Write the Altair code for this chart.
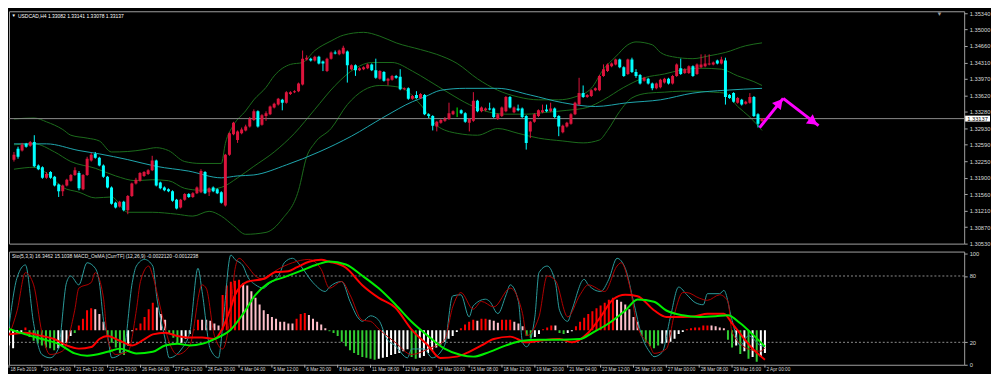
import altair as alt
import pandas as pd

FONT = "Liberation Sans"
W, H1, H2 = 962, 234, 114

# ---------------- data ----------------
tick_labels = ['18 Feb 2019', '20 Feb 04:00', '21 Feb 12:00', '22 Feb 20:00', '26 Feb 04:00',
               '27 Feb 12:00', '28 Feb 20:00', '4 Mar 04:00', '5 Mar 12:00', '6 Mar 20:00',
               '8 Mar 04:00', '11 Mar 08:00', '12 Mar 16:00', '14 Mar 00:00', '15 Mar 08:00',
               '18 Mar 12:00', '19 Mar 20:00', '21 Mar 04:00', '22 Mar 12:00', '25 Mar 16:00',
               '27 Mar 00:00', '28 Mar 08:00', '29 Mar 16:00', '2 Apr 00:00']
price_ticks = [1.30530, 1.30870, 1.31210, 1.31560, 1.31900, 1.32250, 1.32590, 1.32930,
               1.33280, 1.33620, 1.33970, 1.34310, 1.34660, 1.35000, 1.35340]
last_price = 1.33137
title_text = "USDCAD,H4  1.33082 1.33141 1.33078 1.33137"
ind_text = "Sto(5,3,3) 16.3462 15.1038  MACD_OsMA [CurrTF] (12,26,9) -0.0022120 -0.0012238"

opens = [
    1.3228, 1.3251, 1.3247, 1.3261, 1.3257, 1.3265, 1.3216, 1.3212, 1.3190, 1.3202,
    1.3192, 1.3176, 1.3162, 1.3174, 1.3184, 1.3196, 1.3200, 1.3166, 1.3196, 1.3226,
    1.3240, 1.3232, 1.3216, 1.3192, 1.3170, 1.3138, 1.3130, 1.3140, 1.3122, 1.3152,
    1.3178, 1.3184, 1.3194, 1.3198, 1.3206, 1.3226, 1.3180, 1.3170, 1.3166, 1.3162,
    1.3144, 1.3128, 1.3144, 1.3156, 1.3150, 1.3158, 1.3160, 1.3202, 1.3160, 1.3170,
    1.3166, 1.3160, 1.3132, 1.3238, 1.3281, 1.3269, 1.3283, 1.3289, 1.3297, 1.3311,
    1.3329, 1.3301, 1.3319, 1.3323, 1.3337, 1.3343, 1.3353, 1.3347, 1.3365, 1.3369,
    1.3371, 1.3385, 1.3437, 1.3439, 1.3435, 1.3443, 1.3433, 1.3413, 1.3439, 1.3452,
    1.3448, 1.3450, 1.3454, 1.3417, 1.3425, 1.3415, 1.3417, 1.3419, 1.3427, 1.3415,
    1.3397, 1.3411, 1.3393, 1.3395, 1.3403, 1.3401, 1.3375, 1.3377, 1.3355, 1.3363,
    1.3357, 1.3363, 1.3323, 1.3319, 1.3297, 1.3305, 1.3309, 1.3313, 1.3323, 1.3329,
    1.3331, 1.3325, 1.3305, 1.3309, 1.3351, 1.3329, 1.3331, 1.3335, 1.3335, 1.3313,
    1.3319, 1.3329, 1.3359, 1.3327, 1.3335, 1.3335, 1.3319, 1.3287, 1.3307, 1.3319,
    1.3327, 1.3333, 1.3329, 1.3335, 1.3319, 1.3285, 1.3297, 1.3303, 1.3323, 1.3343,
    1.3367, 1.3359, 1.3361, 1.3373, 1.3373, 1.3403, 1.3413, 1.3423, 1.3427, 1.3437,
    1.3421, 1.3407, 1.3437, 1.3411, 1.3405, 1.3393, 1.3397, 1.3387, 1.3377, 1.3379,
    1.3389, 1.3397, 1.3387, 1.3403, 1.3419, 1.3409, 1.3409, 1.3423, 1.3407, 1.3421,
    1.3423, 1.3427, 1.3427, 1.3435, 1.3429, 1.3435, 1.3363, 1.3367, 1.3347, 1.3353,
    1.3345, 1.3347, 1.3359, 1.3323, 1.33082]
highs = [
    1.3244, 1.3255, 1.3263, 1.3263, 1.3267, 1.3279, 1.3218, 1.3214, 1.3202, 1.3204,
    1.3194, 1.3178, 1.3176, 1.3188, 1.3198, 1.3212, 1.3204, 1.3198, 1.3234, 1.3242,
    1.3244, 1.3234, 1.3218, 1.3194, 1.3172, 1.3140, 1.3142, 1.3142, 1.3154, 1.3180,
    1.3190, 1.3202, 1.3204, 1.3208, 1.3236, 1.3228, 1.3182, 1.3172, 1.3168, 1.3164,
    1.3146, 1.3146, 1.3158, 1.3158, 1.3160, 1.3172, 1.3208, 1.3204, 1.3170, 1.3172,
    1.3168, 1.3162, 1.3240, 1.3285, 1.3307, 1.3289, 1.3295, 1.3301, 1.3317, 1.3333,
    1.3331, 1.3323, 1.3329, 1.3341, 1.3347, 1.3357, 1.3355, 1.3371, 1.3371, 1.3373,
    1.3389, 1.3456, 1.3446, 1.3441, 1.3445, 1.3445, 1.3435, 1.3441, 1.3454, 1.3456,
    1.3458, 1.3466, 1.3456, 1.3427, 1.3427, 1.3421, 1.3423, 1.3429, 1.3429, 1.3439,
    1.3415, 1.3413, 1.3399, 1.3405, 1.3405, 1.3417, 1.3379, 1.3379, 1.3363, 1.3371,
    1.3367, 1.3365, 1.3325, 1.3321, 1.3309, 1.3313, 1.3317, 1.3347, 1.3331, 1.3337,
    1.3333, 1.3327, 1.3315, 1.3369, 1.3353, 1.3339, 1.3337, 1.3347, 1.3337, 1.3325,
    1.3339, 1.3361, 1.3361, 1.3339, 1.3343, 1.3337, 1.3321, 1.3309, 1.3325, 1.3333,
    1.3343, 1.3343, 1.3347, 1.3337, 1.3321, 1.3301, 1.3307, 1.3325, 1.3349, 1.3399,
    1.3383, 1.3365, 1.3375, 1.3379, 1.3405, 1.3427, 1.3429, 1.3431, 1.3439, 1.3439,
    1.3423, 1.3439, 1.3441, 1.3417, 1.3407, 1.3401, 1.3399, 1.3389, 1.3389, 1.3397,
    1.3399, 1.3399, 1.3405, 1.3429, 1.3439, 1.3419, 1.3425, 1.3425, 1.3429, 1.3448,
    1.3448, 1.3448, 1.3433, 1.3437, 1.3443, 1.3441, 1.3365, 1.3369, 1.3359, 1.3355,
    1.3351, 1.3367, 1.3361, 1.3325, 1.33141]
lows = [
    1.3224, 1.3230, 1.3245, 1.3253, 1.3255, 1.3212, 1.3206, 1.3188, 1.3188, 1.3188,
    1.3172, 1.3150, 1.3152, 1.3172, 1.3182, 1.3194, 1.3164, 1.3164, 1.3194, 1.3224,
    1.3230, 1.3214, 1.3190, 1.3168, 1.3134, 1.3126, 1.3128, 1.3120, 1.3114, 1.3150,
    1.3176, 1.3182, 1.3192, 1.3196, 1.3204, 1.3172, 1.3166, 1.3162, 1.3160, 1.3140,
    1.3124, 1.3126, 1.3142, 1.3148, 1.3148, 1.3156, 1.3158, 1.3156, 1.3152, 1.3160,
    1.3156, 1.3136, 1.3130, 1.3236, 1.3279, 1.3263, 1.3281, 1.3287, 1.3295, 1.3309,
    1.3295, 1.3299, 1.3309, 1.3321, 1.3335, 1.3341, 1.3331, 1.3345, 1.3363, 1.3367,
    1.3369, 1.3383, 1.3435, 1.3433, 1.3433, 1.3427, 1.3413, 1.3411, 1.3437, 1.3448,
    1.3446, 1.3448, 1.3389, 1.3415, 1.3403, 1.3413, 1.3415, 1.3417, 1.3413, 1.3397,
    1.3395, 1.3391, 1.3383, 1.3393, 1.3397, 1.3373, 1.3373, 1.3353, 1.3353, 1.3355,
    1.3355, 1.3321, 1.3315, 1.3289, 1.3287, 1.3303, 1.3307, 1.3311, 1.3321, 1.3317,
    1.3323, 1.3305, 1.3287, 1.3307, 1.3327, 1.3327, 1.3329, 1.3331, 1.3315, 1.3311,
    1.3317, 1.3327, 1.3335, 1.3325, 1.3329, 1.3315, 1.3249, 1.3273, 1.3305, 1.3317,
    1.3325, 1.3327, 1.3327, 1.3315, 1.3277, 1.3283, 1.3295, 1.3301, 1.3321, 1.3341,
    1.3357, 1.3357, 1.3359, 1.3371, 1.3371, 1.3401, 1.3411, 1.3421, 1.3425, 1.3419,
    1.3401, 1.3405, 1.3409, 1.3399, 1.3385, 1.3391, 1.3385, 1.3373, 1.3375, 1.3377,
    1.3387, 1.3385, 1.3385, 1.3401, 1.3405, 1.3407, 1.3407, 1.3401, 1.3405, 1.3419,
    1.3421, 1.3425, 1.3425, 1.3427, 1.3427, 1.3343, 1.3355, 1.3347, 1.3345, 1.3341,
    1.3343, 1.3345, 1.3317, 1.3295, 1.33078]
closes = [
    1.3238, 1.3234, 1.3259, 1.3255, 1.3265, 1.3214, 1.3208, 1.3190, 1.3198, 1.3190,
    1.3174, 1.3162, 1.3174, 1.3186, 1.3196, 1.3206, 1.3168, 1.3196, 1.3230, 1.3238,
    1.3232, 1.3216, 1.3192, 1.3170, 1.3136, 1.3128, 1.3140, 1.3122, 1.3152, 1.3178,
    1.3186, 1.3200, 1.3202, 1.3206, 1.3226, 1.3174, 1.3168, 1.3164, 1.3162, 1.3142,
    1.3126, 1.3144, 1.3156, 1.3150, 1.3158, 1.3170, 1.3204, 1.3158, 1.3168, 1.3162,
    1.3158, 1.3138, 1.3238, 1.3283, 1.3305, 1.3287, 1.3291, 1.3297, 1.3313, 1.3329,
    1.3297, 1.3321, 1.3325, 1.3339, 1.3345, 1.3355, 1.3347, 1.3369, 1.3369, 1.3371,
    1.3387, 1.3439, 1.3441, 1.3435, 1.3443, 1.3429, 1.3429, 1.3439, 1.3452, 1.3450,
    1.3456, 1.3462, 1.3425, 1.3425, 1.3415, 1.3419, 1.3421, 1.3427, 1.3415, 1.3399,
    1.3413, 1.3393, 1.3397, 1.3403, 1.3399, 1.3375, 1.3377, 1.3355, 1.3361, 1.3357,
    1.3365, 1.3323, 1.3319, 1.3299, 1.3307, 1.3311, 1.3313, 1.3325, 1.3329, 1.3329,
    1.3325, 1.3307, 1.3313, 1.3351, 1.3329, 1.3337, 1.3335, 1.3333, 1.3317, 1.3323,
    1.3337, 1.3359, 1.3337, 1.3337, 1.3331, 1.3317, 1.3263, 1.3307, 1.3323, 1.3331,
    1.3331, 1.3329, 1.3335, 1.3317, 1.3297, 1.3299, 1.3305, 1.3323, 1.3347, 1.3367,
    1.3359, 1.3363, 1.3373, 1.3377, 1.3403, 1.3417, 1.3427, 1.3429, 1.3437, 1.3421,
    1.3403, 1.3437, 1.3411, 1.3403, 1.3387, 1.3399, 1.3387, 1.3377, 1.3387, 1.3395,
    1.3397, 1.3387, 1.3403, 1.3427, 1.3407, 1.3417, 1.3423, 1.3403, 1.3427, 1.3427,
    1.3429, 1.3429, 1.3431, 1.3429, 1.3437, 1.3359, 1.3357, 1.3349, 1.3357, 1.3343,
    1.3349, 1.3359, 1.3319, 1.3303, 1.33137]

# Bollinger bands (20) and moving average, read at sample bars
ub_bar = [0, 5, 8, 12, 14, 18, 21, 24, 28, 32, 35, 38, 42, 46, 51, 52, 54, 57, 59,
          62, 64, 68, 71, 74, 78, 81, 86, 90, 94, 100, 104, 109, 114, 119, 124, 129, 134, 138, 142,
          145, 148, 151, 153, 157, 159, 162, 167, 171, 175, 180, 184]
ub = [1.3313, 1.3315, 1.3307, 1.3291, 1.3279, 1.3273, 1.3267, 1.3244, 1.3245, 1.3249, 1.3253,
      1.3247, 1.3224, 1.3220, 1.3220, 1.3262, 1.3300, 1.3330, 1.3353,
      1.3379, 1.3403, 1.3427, 1.3431, 1.3456, 1.3476, 1.3488, 1.3494, 1.3486, 1.3472, 1.3458,
      1.3448, 1.3429, 1.3397, 1.3373, 1.3359, 1.3353, 1.3353, 1.3359, 1.3377,
      1.3417, 1.3443, 1.3468, 1.3474, 1.3468, 1.3452, 1.3443, 1.3439, 1.3445, 1.3452, 1.3466, 1.3472]
mb_bar = [0, 5, 10, 14, 20, 25, 30, 34, 38, 42, 46, 51, 55, 59, 64, 69, 74, 79, 84, 88, 93, 98,
          102, 107, 112, 117, 121, 126, 131, 136, 141, 145, 150, 155, 160, 164, 169, 174, 178, 182, 184]
mb = [1.3259, 1.3261, 1.3244, 1.3224, 1.3210, 1.3194, 1.3184, 1.3186, 1.3184, 1.3168, 1.3164,
      1.3170, 1.3190, 1.3214, 1.3244, 1.3283, 1.3333, 1.3383, 1.3419, 1.3431, 1.3431, 1.3413,
      1.3393, 1.3367, 1.3343, 1.3327, 1.3323, 1.3323, 1.3327, 1.3331, 1.3337, 1.3353, 1.3379,
      1.3399, 1.3407, 1.3415, 1.3419, 1.3417, 1.3403, 1.3391, 1.3383]
lb_bar = [0, 5, 8, 12, 16, 20, 24, 28, 34, 40, 44, 48, 51, 54, 57, 62, 66, 70, 72, 74, 78, 82, 86,
          90, 95, 100, 104, 109, 114, 119, 124, 129, 135, 140, 144, 146, 149, 152, 156, 160, 164,
          168, 172, 175, 178, 181, 184]
lb = [1.3208, 1.3212, 1.3200, 1.3170, 1.3160, 1.3148, 1.3150, 1.3118, 1.3118, 1.3114, 1.3110,
      1.3120, 1.3110, 1.3090, 1.3072, 1.3076, 1.3104, 1.3164, 1.3234, 1.3263, 1.3293, 1.3343,
      1.3373, 1.3383, 1.3379, 1.3343, 1.3299, 1.3283, 1.3279, 1.3293, 1.3283, 1.3273, 1.3267,
      1.3263, 1.3269, 1.3289, 1.3329, 1.3357, 1.3367, 1.3369, 1.3371, 1.3371, 1.3369, 1.3367,
      1.3339, 1.3317, 1.3289]
ma_bar = [0, 8, 16, 21, 28, 35, 43, 51, 55, 59, 67, 75, 83, 91, 98, 101, 105, 111, 119, 127,
          135, 143, 151, 159, 167, 175, 184]
ma = [1.3261, 1.3261, 1.3247, 1.3240, 1.3228, 1.3214, 1.3204, 1.3190, 1.3194, 1.3196, 1.3217,
      1.3244, 1.3277, 1.3317, 1.3349, 1.3359, 1.3373, 1.3377, 1.3377, 1.3363, 1.3347, 1.3339,
      1.3347, 1.3353, 1.3367, 1.3373, 1.3377]

# Stochastic (5,3,3)
sto_main_bar = [0, 2, 4, 6, 8, 10, 12, 14, 15, 17, 19, 21, 22, 23, 24, 25, 27, 28, 30, 31, 33, 35,
                36, 38, 39, 42, 44, 46, 47, 49, 51, 52, 54, 55, 57, 58, 60, 62, 63, 66, 67, 69,
                71, 74, 77, 78, 81, 83, 85, 86, 88, 90, 92, 94, 97, 98, 101, 103, 106, 108, 110,
                112, 113, 116, 117, 119, 121, 122, 124, 125, 126, 128, 129, 131, 133, 134, 136,
                137, 140, 141, 144, 146, 148, 150, 152, 154, 156, 157, 159, 161, 163, 165, 167,
                169, 170, 173, 174, 176, 178, 180, 183, 184]
sto_main = [34, 79, 90, 37, 9, 6, 14, 74, 80, 72, 92, 87, 74, 40, 26, 6, 9, 14, 74, 89, 95, 89,
            60, 23, 6, 14, 29, 87, 66, 14, 6, 34, 99, 95, 89, 80, 72, 69, 72, 83, 92, 96,
            89, 74, 66, 70, 75, 57, 42, 39, 44, 40, 23, 17, 6, 14, 14, 6, 17, 62, 63,
            43, 53, 59, 57, 46, 63, 72, 57, 20, 16, 43, 83, 89, 74, 49, 39,
            49, 77, 72, 66, 77, 96, 87, 57, 26, 11, 7, 11, 43, 70, 63, 56,
            54, 64, 64, 67, 40, 17, 26, 17, 16.35]
sto_sig_bar = [0, 2, 4, 6, 8, 10, 13, 16, 17, 20, 21, 23, 24, 26, 29, 31, 32, 34, 35, 37, 39, 41,
               44, 47, 48, 50, 52, 54, 55, 56, 58, 60, 62, 65, 67, 69, 73, 76, 78, 81, 83, 86,
               88, 90, 94, 98, 102, 106, 108, 110, 113, 115, 118, 122, 125, 126, 129, 131, 133,
               136, 139, 141, 145, 148, 149, 151, 153, 156, 157, 160, 162, 164, 165, 168, 170,
               173, 175, 176, 180, 183, 184]
sto_sig = [26, 49, 83, 72, 29, 9, 12, 49, 69, 74, 83, 60, 23, 9, 12, 49, 75, 89, 80, 49, 20, 9,
           17, 72, 69, 26, 14, 49, 86, 96, 89, 80, 77, 85, 89, 92, 95, 86, 69, 75, 63, 40,
           39, 32, 20, 9, 14, 22, 52, 65, 50, 57, 52, 69, 46, 26, 43, 80, 76,
           43, 63, 72, 66, 89, 92, 72, 34, 17, 10, 14, 46, 65, 65, 60, 58,
           63, 57, 29, 14, 12, 15.10]

# MACD_OsMA (12,26,9)
macd_bar = [0, 4, 8, 11, 14, 17, 20, 22, 24, 27, 30, 33, 35, 38, 41, 44, 47, 50, 52, 54, 55, 58,
            62, 65, 68, 70, 73, 76, 78, 82, 86, 90, 94, 98, 102, 105, 109, 112, 115, 118, 122,
            126, 129, 134, 137, 141, 144, 147, 150, 153, 157, 160, 164, 167, 170, 174, 176, 179,
            181, 184]
macd = [-0.00031, -0.00019, -0.00043, -0.00066, -0.00114, -0.00138, -0.00126, -0.00066, -0.00043,
        -0.00079, -0.00114, -0.00066, -0.00031, -0.00019, -0.00043, -0.00055, -0.00055, -0.00066,
        0.00016, 0.00171, 0.00264, 0.00364, 0.00386, 0.00436, 0.00443, 0.00471, 0.00514, 0.00528,
        0.00514, 0.00469, 0.00338, 0.00243, 0.00171, 0.00005, -0.00114, -0.00209, -0.00198,
        -0.00162, -0.00114, -0.00066, -0.00048, -0.00091, -0.00079, -0.00066, -0.00091, -0.00019,
        0.00100, 0.00231, 0.00266, 0.00255, 0.00150, 0.00100, 0.00100, 0.00105, 0.00124, 0.00124,
        0.00052, -0.00066, -0.00138, -0.002212]
signal_bar = [0, 4, 8, 12, 16, 19, 24, 27, 31, 35, 38, 41, 44, 47, 50, 54, 57, 60, 63, 67, 71, 75,
              78, 82, 86, 90, 94, 98, 102, 106, 110, 113, 117, 121, 125, 129, 134, 139, 142, 146,
              150, 153, 157, 160, 164, 168, 172, 175, 178, 181, 184]
signal = [0.00009, -0.00031, -0.00066, -0.00102, -0.00174, -0.00191, -0.00162, -0.00138, -0.00174,
          -0.00162, -0.00114, -0.00102, -0.00114, -0.00102, -0.00066, 0.00005, 0.00124, 0.00266,
          0.00350, 0.00398, 0.00445, 0.00493, 0.00516, 0.00493, 0.00409, 0.00314, 0.00195, 0.00064,
          -0.00043, -0.00138, -0.00186, -0.00198, -0.00162, -0.00114, -0.00079, -0.00071, -0.00071,
          -0.00066, -0.00019, 0.00052, 0.00148, 0.00231, 0.00214, 0.00148, 0.00112, 0.00100,
          0.00105, 0.00112, 0.00052, -0.00031, -0.0012238]
osma = [
    -0.00114, -0.00136, -0.00029, -0.00021, 0.00021, -0.00050, -0.00079, -0.00100, -0.00114, -0.00129,
    -0.00136, -0.00150, -0.00136, -0.00114, -0.00093, -0.00043, -0.00021, 0.00036, 0.00086, 0.00150,
    0.00164, 0.00157, 0.00121, 0.00064, -0.00050, -0.00093, -0.00129, -0.00171, -0.00186, -0.00114,
    -0.00007, 0.00014, 0.00050, 0.00100, 0.00157, 0.00207, 0.00171, 0.00121, 0.00079, -0.00021,
    -0.00057, -0.00100, -0.00093, -0.00064, -0.00029, 0.00007, 0.00079, 0.00079, 0.00079, 0.00071,
    0.00050, 0.00036, 0.00264, 0.00336, 0.00364, 0.00371, 0.00378, 0.00350, 0.00336, 0.00293,
    0.00243, 0.00193, 0.00150, 0.00121, 0.00100, 0.00086, 0.00064, 0.00064, 0.00050, 0.00050,
    0.00086, 0.00121, 0.00129, 0.00114, 0.00086, 0.00064, 0.00043, 0.00014, -0.00007, -0.00021,
    -0.00043, -0.00086, -0.00121, -0.00150, -0.00171, -0.00186, -0.00200, -0.00207, -0.00214, -0.00221,
    -0.00214, -0.00207, -0.00200, -0.00186, -0.00179, -0.00171, -0.00157, -0.00143, -0.00200, -0.00214,
    -0.00207, -0.00193, -0.00171, -0.00150, -0.00129, -0.00107, -0.00086, -0.00064, -0.00043, -0.00014,
    0.00014, 0.00043, 0.00064, 0.00079, 0.00071, 0.00086, 0.00086, 0.00079, 0.00071, 0.00057,
    0.00079, 0.00079, 0.00079, 0.00064, 0.00050, 0.00029, -0.00043, -0.00057, -0.00050, -0.00029,
    0.00007, 0.00021, 0.00036, 0.00036, -0.00021, -0.00029, -0.00021, -0.00007, 0.00029, 0.00064,
    0.00093, 0.00121, 0.00143, 0.00164, 0.00186, 0.00207, 0.00228, 0.00243, 0.00228, 0.00214,
    0.00193, 0.00157, 0.00100, 0.00064, -0.00043, -0.00086, -0.00121, -0.00136, -0.00114, -0.00100,
    -0.00093, -0.00086, -0.00064, -0.00029, -0.00014, 0.00007, 0.00014, 0.00021, 0.00021, 0.00036,
    0.00036, 0.00036, 0.00029, 0.00021, 0.00014, -0.00071, -0.00129, -0.00114, -0.00179, -0.00157,
    -0.00214, -0.00200, -0.00236, -0.00200, -0.00171]
osma_kind = ("WWWWRGGGGG" "GGWWWWGRRR" "RPPPGGGGGW" "WRRRRRPPPG" "GGWWWRRPPP"
             "PPRRRRRPPP" "PPPPPPPPPP" "RRRPPPPPGG" "GGGGGGGGGG" "WWWWWWWWGG"
             "WWWWWWWWWW" "RRRRPRRPPP" "RRRPPPGGWW" "RRRPGGWWRR" "RRRRRRRRPP"
             "PPPPGGGGGW" "WWWWWRRRRR" "RPPPPGGWGW" "GWGWW")

# magenta forecast arrows (bar position, price)
arrow_bar = [183.4, 189.2, 189.2, 197.9]
arrow_price = [1.3295, 1.3356, 1.3356, 1.3299]
arrow_seg = ["a", "a", "b", "b"]
head_bar = [188.3, 196.6]
head_price = [1.3347, 1.3307]
head_angle = [309, 37]

# ---------------- tables ----------------
n = len(closes)
bars = pd.DataFrame({"bar": list(range(n)), "open": opens, "high": highs, "low": lows, "close": closes})
bars["dir"] = ["up" if c > o else ("down" if c < o else "flat") for o, c in zip(opens, closes)]

band_df = pd.concat([
    pd.DataFrame({"bar": ub_bar, "price": ub, "band": "upper"}),
    pd.DataFrame({"bar": mb_bar, "price": mb, "band": "middle"}),
    pd.DataFrame({"bar": lb_bar, "price": lb, "band": "lower"}),
])
ma_df = pd.DataFrame({"bar": ma_bar, "price": ma})
last_df = pd.DataFrame({"price": [last_price], "lo": [last_price - 0.00062],
                        "hi": [last_price + 0.00062], "lbl": ["%.5f" % last_price]})
arrow_df = pd.DataFrame({"bar": arrow_bar, "price": arrow_price, "seg": arrow_seg})
head_df = pd.DataFrame({"bar": head_bar, "price": head_price, "ang": head_angle})

hist_df = pd.DataFrame({"bar": list(range(n)), "osma": osma, "kind": list(osma_kind), "zero": 0.0})
sto_main_df = pd.DataFrame({"bar": sto_main_bar, "v": sto_main})
sto_sig_df = pd.DataFrame({"bar": sto_sig_bar, "v": sto_sig})
macd_df = pd.DataFrame({"bar": macd_bar, "v": macd})
signal_df = pd.DataFrame({"bar": signal_bar, "v": signal})
lvl_df = pd.DataFrame({"lvl": [20, 80]})
xlab_df = pd.DataFrame({"bar": list(range(0, n, 8)), "lbl": tick_labels})

# ---------------- scales / axes ----------------
xs = alt.Scale(domain=[0, 232.5], nice=False, zero=False)
ys = alt.Scale(domain=[1.30525, 1.35380], nice=False, zero=False)
sto_s = alt.Scale(domain=[-0.3, 102.1], nice=False, zero=False)
macd_s = alt.Scale(domain=[-0.00259, 0.00590], nice=False, zero=False)

LBL = "#d8d8d8"
TICK = "#a8a8a8"
price_axis = alt.Axis(orient="right", values=price_ticks, format=".5f", title=None,
                      labelColor=LBL, labelFont=FONT, labelFontSize=5.8, tickColor=TICK,
                      tickSize=3, domain=False, grid=False, labelPadding=2, labelOverlap=False)
sto_axis = alt.Axis(orient="right", values=[0, 20, 80, 100], title=None, labelColor=LBL,
                    labelFont=FONT, labelFontSize=5.8, tickColor=TICK, tickSize=3,
                    domain=False, grid=False, labelPadding=2, labelOverlap=False)


def X():
    return alt.X("bar:Q", scale=xs, axis=None)


def YP(field):
    return alt.Y(field, scale=ys, axis=price_axis)


candle_color = alt.Color("dir:N", legend=None,
                         scale=alt.Scale(domain=["up", "down", "flat"],
                                         range=["#dc143c", "#00ffff", "#00ff00"]))

# ---------------- price panel ----------------
bands = alt.Chart(band_df).mark_line(color="#1c6c1c", strokeWidth=1, interpolate="monotone",
                                     clip=True).encode(x=X(), y=YP("price:Q"), detail="band:N")
ma_line = alt.Chart(ma_df).mark_line(color="#1fa6ad", strokeWidth=1, interpolate="monotone",
                                     clip=True).encode(x=X(), y=YP("price:Q"))
last_line = alt.Chart(last_df).mark_rule(color="#8a8a8a", strokeWidth=1).encode(y=YP("price:Q"))
wicks = alt.Chart(bars).mark_rule(strokeWidth=1, clip=True).encode(
    x=X(), y=YP("low:Q"), y2="high:Q", color=candle_color)
bodies = alt.Chart(bars).mark_bar(size=3, clip=True).encode(
    x=X(), y=YP("open:Q"), y2="close:Q", color=candle_color)
arrows = alt.Chart(arrow_df).mark_line(color="#ff00ff", strokeWidth=3, clip=True).encode(
    x=X(), y=YP("price:Q"), detail="seg:N")
heads = alt.Chart(head_df).mark_point(shape="triangle-right", filled=True, color="#ff00ff",
                                       size=130, opacity=1).encode(
    x=X(), y=YP("price:Q"), angle=alt.Angle("ang:Q", scale=None))
price_box = alt.Chart(last_df).mark_rect(color="white").encode(
    x=alt.value(W + 1), x2=alt.value(W + 26), y=YP("lo:Q"), y2="hi:Q")
price_txt = alt.Chart(last_df).mark_text(align="left", baseline="middle", color="black",
                                         font=FONT, fontSize=5.8).encode(
    x=alt.value(W + 3), y=YP("price:Q"), text="lbl:N")
title_mark = alt.Chart(last_df).mark_text(align="left", baseline="middle", color="white",
                                          font=FONT, fontSize=5).encode(
    x=alt.value(9), y=alt.value(4.5), text=alt.value(title_text))
title_tri = alt.Chart(last_df).mark_text(align="left", baseline="middle", color="white",
                                         font=FONT, fontSize=4.5).encode(
    x=alt.value(2.5), y=alt.value(4.5), text=alt.value("▼"))
shift_tri = alt.Chart(last_df).mark_text(align="center", baseline="top", color="#9a9a9a",
                                         font=FONT, fontSize=6).encode(
    x=alt.value(937), y=alt.value(0), text=alt.value("▼"))

top = alt.layer(bands, ma_line, last_line, wicks, bodies, arrows, heads, price_box, price_txt,
                title_mark, title_tri, shift_tri).properties(width=W, height=H1)

# ---------------- oscillator panel ----------------
levels = alt.Chart(lvl_df).mark_rule(color="#8c8c8c", strokeDash=[2, 2], strokeWidth=1).encode(
    y=alt.Y("lvl:Q", scale=sto_s, axis=sto_axis))
hist = alt.Chart(hist_df).mark_rule(strokeWidth=2, clip=True).encode(
    x=X(), y=alt.Y("osma:Q", scale=macd_s, axis=None), y2="zero:Q",
    color=alt.Color("kind:N", legend=None,
                    scale=alt.Scale(domain=["R", "P", "G", "W"],
                                    range=["#ff0000", "#ffc0cb", "#32cd32", "#ffffff"])))
sto_main_line = alt.Chart(sto_main_df).mark_line(color="#2a9a9a", strokeWidth=1,
                                                 interpolate="monotone", clip=True).encode(
    x=X(), y=alt.Y("v:Q", scale=sto_s, axis=None))
sto_sig_line = alt.Chart(sto_sig_df).mark_line(color="#b00000", strokeWidth=1,
                                               interpolate="monotone", clip=True).encode(
    x=X(), y=alt.Y("v:Q", scale=sto_s, axis=None))
macd_line = alt.Chart(macd_df).mark_line(color="#ff0000", strokeWidth=2,
                                         interpolate="monotone", clip=True).encode(
    x=X(), y=alt.Y("v:Q", scale=macd_s, axis=None))
signal_line = alt.Chart(signal_df).mark_line(color="#00ee00", strokeWidth=2,
                                             interpolate="monotone", clip=True).encode(
    x=X(), y=alt.Y("v:Q", scale=macd_s, axis=None))
ind_label = alt.Chart(lvl_df.head(1)).mark_text(align="left", baseline="middle", color="#e8e8e8",
                                                font=FONT, fontSize=5).encode(
    x=alt.value(3), y=alt.value(4.5), text=alt.value(ind_text))
# time axis: ticks and labels below the oscillator panel
xticks = alt.Chart(xlab_df).mark_rule(color=TICK, strokeWidth=1).encode(
    x=X(), y=alt.value(H2), y2=alt.value(H2 + 3))
xlabels = alt.Chart(xlab_df).mark_text(align="left", baseline="top", color=LBL, font=FONT,
                                       fontSize=4.7, dx=1.5).encode(
    x=X(), y=alt.value(H2 + 2.5), text="lbl:N")

bottom = alt.layer(levels, hist, sto_main_line, sto_sig_line, macd_line, signal_line,
                   ind_label, xticks, xlabels).resolve_scale(y="independent").properties(
    width=W, height=H2)

chart = alt.vconcat(top, bottom, spacing=2).resolve_scale(color="independent").properties(
    padding={"left": 0, "top": 0, "right": 0, "bottom": 0}, background="black"
).configure_view(stroke="#a0a0a0", strokeWidth=1)

chart.save("out.html", embed_options={"renderer": "svg", "actions": False})
